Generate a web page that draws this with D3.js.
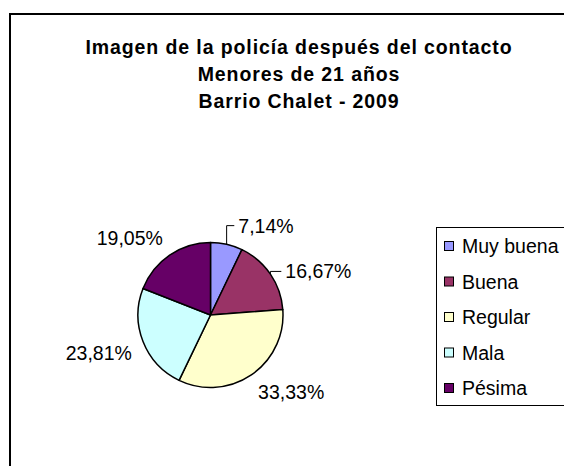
<!DOCTYPE html>
<html>
<head>
<meta charset="utf-8">
<script src="https://cdn.jsdelivr.net/npm/d3@7"></script>
<style>
  body { margin: 0; background: #fff; }
  text { font-family: "Liberation Sans", Arial, sans-serif; }
</style>
</head>
<body>
<div id="chart-area"></div>
<script>
// Data
var categories = ["Muy buena", "Buena", "Regular", "Mala", "Pésima"];
var percents = [7.14, 16.67, 33.33, 23.81, 19.05];
var colors = ["#9999FF", "#993366", "#FFFFCC", "#CCFFFF", "#660066"];
var titleLines = ["Imagen de la policía después del contacto", "Menores de 21 años", "Barrio Chalet - 2009"];

var width = 564, height = 466;
var cx = 210.5, cy = 315, radius = 72.5;

// labels that were dragged away from the pie (with leader line)
var nudge = {"Muy buena": [9, 0], "Buena": [5, 11]};

var svg = d3.select("#chart-area").append("svg").attr("width", width).attr("height", height);

// chart frame (cut on right and bottom)
svg.append("path").attr("d", "M10,480 L10,14 L580,14")
  .attr("fill", "none").attr("stroke", "#000").attr("stroke-width", 2);

// Title
svg.append("g").selectAll("text").data(titleLines).enter().append("text")
  .attr("x", 299).attr("y", (d, i) => 54 + i * 27)
  .attr("text-anchor", "middle").attr("font-size", "19.5px").attr("font-weight", "bold")
  .attr("letter-spacing", "0.9px").attr("fill", "#000")
  .text(d => d);

var data = categories.map((c, i) => ({name: c, value: percents[i], color: colors[i]}));

var pie = d3.pie().sort(null).value(d => d.value);
var arc = d3.arc().innerRadius(0).outerRadius(radius);
var arcs = pie(data);

var g = svg.append("g").attr("transform", "translate(" + cx + "," + cy + ")");

g.selectAll("path.slice").data(arcs).enter().append("path")
  .attr("class", "slice")
  .attr("d", arc)
  .attr("fill", d => d.data.color)
  .attr("stroke", "#000").attr("stroke-width", 1.5).attr("stroke-linejoin", "round");

// Data labels
var fmt = v => v.toFixed(2).replace(".", ",") + "%";
var labelSize = 19.5, capH = labelSize * 0.716;

arcs.forEach(d => {
  var a = (d.startAngle + d.endAngle) / 2;
  var s = Math.sin(a), c = -Math.cos(a);
  var px = (radius + 12) * s, py = (radius + 12) * c;
  var right = s >= 0, below = c > 0;
  var n = nudge[d.data.name] || [0, 0];
  var tx = px + n[0];
  var baseY = below ? py + capH : py;
  baseY += n[1];
  g.append("text")
    .attr("x", tx).attr("y", baseY)
    .attr("text-anchor", right ? "start" : "end")
    .attr("font-size", labelSize + "px").attr("fill", "#000")
    .text(fmt(d.data.value));
  if (nudge[d.data.name]) {
    var ex = radius * s, ey = radius * c;
    var my = baseY - capH / 2;
    g.append("path")
      .attr("d", "M" + ex + "," + ey + " L" + ex + "," + my + " L" + (tx - 4) + "," + my)
      .attr("fill", "none").attr("stroke", "#000").attr("stroke-width", 1);
  }
});

// Legend
var legend = svg.append("g");
legend.append("rect").attr("x", 436.5).attr("y", 227.5).attr("width", 200).attr("height", 178)
  .attr("fill", "#fff").attr("stroke", "#000").attr("stroke-width", 1);

var rows = legend.selectAll("g.item").data(data).enter().append("g")
  .attr("class", "item")
  .attr("transform", (d, i) => "translate(444," + (246 + i * 35.5) + ")");
rows.append("rect").attr("x", 0.5).attr("y", -4.5).attr("width", 9).attr("height", 9)
  .attr("fill", d => d.color).attr("stroke", "#000").attr("stroke-width", 1);
rows.append("text").attr("x", 18).attr("y", 7)
  .attr("font-size", "19.5px").attr("fill", "#000")
  .text(d => d.name);
</script>
</body>
</html>
